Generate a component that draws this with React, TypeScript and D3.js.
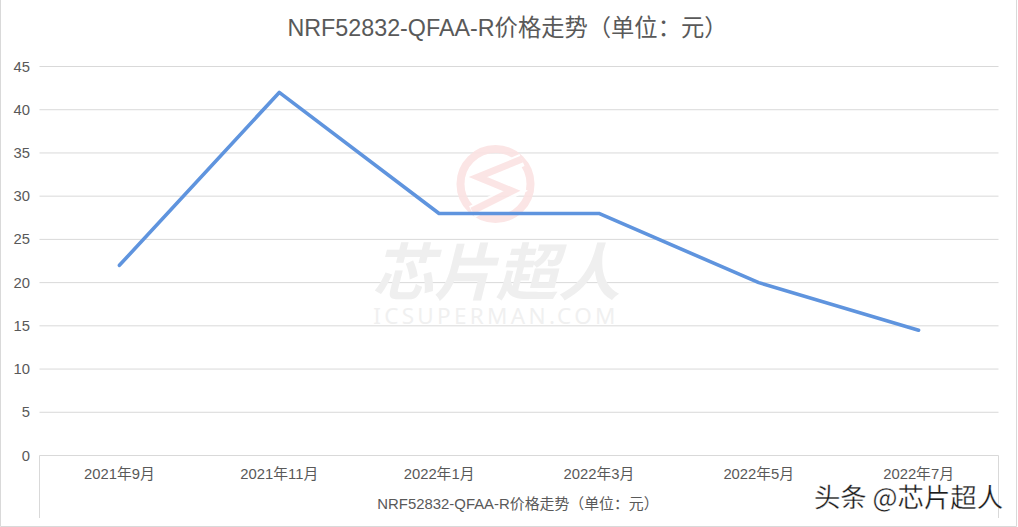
import React from "react";
import * as d3 from "d3";

const categories = ["2021年9月", "2021年11月", "2022年1月", "2022年3月", "2022年5月", "2022年7月"];
const prices = [22, 42, 28, 28, 20, 14.5];
const yTicks = [0, 5, 10, 15, 20, 25, 30, 35, 40, 45];
const chartTitle = "NRF52832-QFAA-R价格走势（单位：元）";
const axisTitle = "NRF52832-QFAA-R价格走势（单位：元）";
const wmCn = "芯片超人";
const wmEn = "ICSUPERMAN.COM";
const signature = "头条 @芯片超人";

const W = 1018, H = 527;
const FONT = "'Liberation Sans', 'Noto Sans CJK SC', sans-serif";

export default function App() {
  const x = d3.scaleBand<string>().domain(categories).range([39.5, 998.5]);
  const y = d3.scaleLinear().domain([0, 45]).range([455.5, 66.5]);
  const line = d3.line<number>().x((_, i) => x(categories[i])! + x.bandwidth() / 2).y((d) => y(d));
  return (
    <svg width={W} height={H} viewBox={`0 0 ${W} ${H}`} style={{ position: "fixed", left: 0, top: 0, background: "#fff" }} fontFamily={FONT}>
      <path d="M0.5 -1V526.5H1016.5V-1" fill="none" stroke="#d9d9d9" strokeWidth={1} />
      <text x={507.5} y={36} textAnchor="middle" fontSize={23.3} fill="#595959">{chartTitle}</text>
      {yTicks.map((t) => (
        <g key={t}>
          <line x1={39.5} x2={998.5} y1={y(t)} y2={y(t)} stroke="#d9d9d9" strokeWidth={1} />
          <text x={30} y={y(t) + 5} textAnchor="end" fontSize={14.8} fill="#595959">{t}</text>
        </g>
      ))}
      <path d="M39.5 455.5V518M998.5 455.5V518" fill="none" stroke="#d9d9d9" strokeWidth={1} />
      {categories.map((c) => (
        <text key={c} x={x(c)! + x.bandwidth() / 2} y={479} textAnchor="middle" fontSize={14.8} fill="#595959">{c}</text>
      ))}
      <text x={518} y={509} textAnchor="middle" fontSize={14.9} fill="#595959">{axisTitle}</text>
      <g opacity={0.9}>
        <circle cx={495.5} cy={184} r={35} fill="none" stroke="#fbe3e3" strokeWidth={8} />
        <path d="M522 160L482 177L513 191L472 212" fill="none" stroke="#fff" strokeWidth={13} />
        <path d="M522 159L478 177L512 191L472 211" fill="none" stroke="#fbe3e3" strokeWidth={7} />
      </g>
      <text x={496} y={295} textAnchor="middle" fontSize={62} fontWeight={700} fontStyle="italic" fill="#efefef" fontFamily="'Noto Sans CJK SC', sans-serif">{wmCn}</text>
      <text x={496} y={324} textAnchor="middle" fontSize={22.5} fill="#f0f0f0" letterSpacing={3.3} fontFamily="'Noto Sans', sans-serif">{wmEn}</text>
      <path d={line(prices)!} fill="none" stroke="#5f94de" strokeWidth={3.6} strokeLinejoin="round" strokeLinecap="round" />
      <text x={908.5} y={507} textAnchor="middle" fontSize={26.4} fill="#1c1c1c" stroke="#fff" strokeWidth={0.3} fontFamily="'Noto Sans CJK SC', sans-serif">{signature}</text>
    </svg>
  );
}
